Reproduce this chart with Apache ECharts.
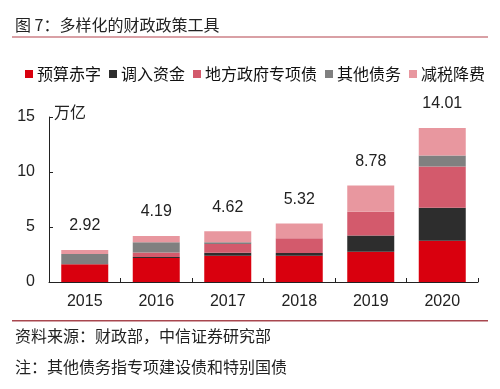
<!DOCTYPE html>
<html>
<head>
<meta charset="utf-8">
<script src="https://cdn.jsdelivr.net/npm/echarts@6/dist/echarts.min.js"></script>
<style>
html,body{margin:0;padding:0;background:#fff;}
#c{width:500px;height:389px;}
</style>
</head>
<body>
<div id="c"></div>
<script>
const categories = ['2015', '2016', '2017', '2018', '2019', '2020'];
const deficit = [1.62, 2.18, 2.38, 2.38, 2.76, 3.76];
const transferFunds = [0, 0.10, 0.28, 0.25, 1.47, 3.00];
const localSpecialBonds = [0, 0.40, 0.80, 1.35, 2.15, 3.75];
const otherDebt = [0.93, 0.94, 0.16, 0, 0, 1.00];
const taxCuts = [0.37, 0.57, 1.00, 1.34, 2.40, 2.50];
const totals = ['2.92', '4.19', '4.62', '5.32', '8.78', '14.01'];
const yTicks = [0, 5, 10, 15];

const seriesNames = ['预算赤字', '调入资金', '地方政府专项债', '其他债务', '减税降费'];
const seriesData = [deficit, transferFunds, localSpecialBonds, otherDebt, taxCuts];
const colors = ['#d9000e', '#2d2d2d', '#d35a6c', '#808080', '#e8979f'];

const cjk = '"Noto Sans CJK SC", "Liberation Sans", sans-serif';
const num = '"Liberation Sans", Arial, sans-serif';

const chart = echarts.init(document.getElementById('c'), null, {renderer: 'canvas'});
const series = seriesNames.map((n, i) => ({
  name: n,
  type: 'bar',
  stack: 'total',
  barWidth: 47,
  data: seriesData[i],
  itemStyle: {color: colors[i]},
  label: i === seriesNames.length - 1 ? {
    show: true,
    position: 'top',
    distance: 16,
    formatter: p => totals[p.dataIndex],
    fontFamily: num,
    fontSize: 16,
    color: '#222'
  } : {show: false}
}));

chart.setOption({
  animation: false,
  backgroundColor: '#fff',
  color: colors,
  grid: {left: 49, right: 22, top: 117, bottom: 107},
  legend: {
    data: seriesNames,
    left: 20,
    top: 61,
    itemWidth: 8,
    itemHeight: 8,
    itemGap: 8,
    icon: 'rect',
    textStyle: {fontFamily: cjk, fontSize: 16, color: '#111', padding: [0, 0, 0, -1]}
  },
  xAxis: {
    type: 'category',
    data: categories,
    axisLine: {lineStyle: {color: '#222', width: 1}},
    axisTick: {show: true, inside: true, length: 4, lineStyle: {color: '#222'}},
    axisLabel: {fontFamily: num, fontSize: 16, color: '#222', margin: 12}
  },
  yAxis: {
    type: 'value',
    min: 0,
    max: 15,
    interval: 5,
    splitLine: {show: false},
    axisLine: {show: true, lineStyle: {color: '#222', width: 1}},
    axisTick: {show: true, inside: true, length: 4, lineStyle: {color: '#222'}},
    axisLabel: {
      fontFamily: num, fontSize: 16, color: '#222', margin: 14,
      formatter: v => (yTicks.indexOf(v) >= 0 ? String(v) : '')
    }
  },
  graphic: [
    {type: 'text', left: 15, top: 17, style: {text: '图 7：多样化的财政政策工具', font: '16px ' + cjk, fill: '#222'}},
    {type: 'rect', shape: {x: 12, y: 36, width: 476, height: 2}, style: {fill: '#d9a0a5'}},
    {type: 'text', left: 54, top: 104, style: {text: '万亿', font: '16px ' + cjk, fill: '#222'}},
    {type: 'rect', shape: {x: 12, y: 320, width: 476, height: 1.5}, style: {fill: '#a8474f'}},
    {type: 'text', left: 15, top: 328, style: {text: '资料来源：财政部，中信证券研究部', font: '16px ' + cjk, fill: '#222'}},
    {type: 'text', left: 15, top: 359, style: {text: '注：其他债务指专项建设债和特别国债', font: '16px ' + cjk, fill: '#222'}}
  ],
  series: series
});
</script>
</body>
</html>
